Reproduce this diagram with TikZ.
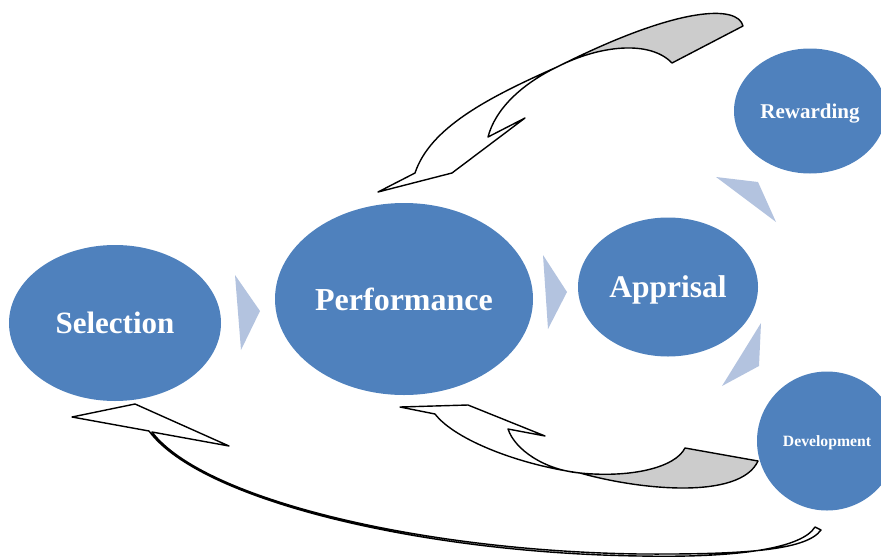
\documentclass[tikz,border=0pt]{standalone}
\usepackage{fontspec}
\setmainfont{Liberation Serif}
\usetikzlibrary{shapes.geometric}
\definecolor{stageblue}{HTML}{4F81BD}
\definecolor{chevron}{HTML}{B3C3DF}
\definecolor{ribbonback}{HTML}{CCCCCC}
\tikzset{
  stage/.style={ellipse, fill=stageblue, draw=none, inner sep=0pt, text depth=0pt, text=white, font=\bfseries},
  pointer/.style={fill=chevron, draw=none},
  ribbon/.style={draw=black, line width=1.4pt, line join=round},
  ribbonfold/.style={ribbon, fill=ribbonback},
}
\newcommand{\fsz}[1]{\fontsize{#1}{#1}\selectfont}
\begin{document}
\begin{tikzpicture}[x=1pt,y=-1pt]
\useasboundingbox (0,0) rectangle (881,557);

% stages of the cycle
\node[stage, minimum width=212pt, minimum height=156pt, font=\bfseries\fsz{31}] (sel) at (115,323) {Selection};
\node[stage, minimum width=258pt, minimum height=192pt, font=\bfseries\fsz{32}] (perf) at (404,299) {Performance};
\node[stage, minimum width=180pt, minimum height=139pt, font=\bfseries\fsz{31.5}] (app) at (668,287) {Apprisal};
\node[stage, minimum width=152pt, minimum height=125pt, font=\bfseries\fsz{21}] (rew) at (810,111) {Rewarding};
\node[stage, minimum width=140pt, minimum height=139pt, font=\bfseries\fsz{15.7}] (dev) at (827,441) {Development};

% flow pointers between stages
\fill[pointer] (235,275) -- (260,311) -- (241,350) -- cycle;
\fill[pointer] (543,255) -- (567,292) -- (548,329) -- cycle;
\fill[pointer] (716,177) -- (758,182) -- (776,222) -- cycle;
\fill[pointer] (761,323) -- (759,366) -- (722,386) -- cycle;

% curved arrow: rewarding back to performance
\coordinate (tA) at (557,67);
\draw[ribbonfold] (tA) .. controls (600,45) and (650,40) .. (672,63)
  -- (743,26) .. controls (738,5) and (680,5) .. (tA) -- cycle;
\draw[ribbon] (tA) .. controls (487,98) and (430,128) .. (415,173)
  -- (378,192) -- (452,173) -- (525,118) -- (488,137)
  .. controls (495,110) and (520,85) .. (tA);

% curved arrow: development back to performance
\coordinate (tB) at (580,473);
\draw[ribbonfold] (tB) .. controls (630,478) and (675,468) .. (685,448)
  -- (758,461) .. controls (740,500) and (640,490) .. (tB) -- cycle;
\draw[ribbon] (tB) .. controls (520,465) and (455,440) .. (435,414)
  -- (400,407) -- (468,405) -- (545,436) -- (508,429)
  .. controls (515,450) and (545,470) .. (tB);

% long curved arrow: development back to selection
\draw[ribbon] (149,431) .. controls (200,500) and (420,553) .. (640,556)
  .. controls (740,558) and (802,548) .. (815,527) -- (821,530)
  .. controls (806,551) and (740,554.5) .. (640,554)
  .. controls (420,551) and (203,499) .. (152,432)
  -- (229,446) -- (135,404) -- (72,417) -- cycle;
\end{tikzpicture}
\end{document}
